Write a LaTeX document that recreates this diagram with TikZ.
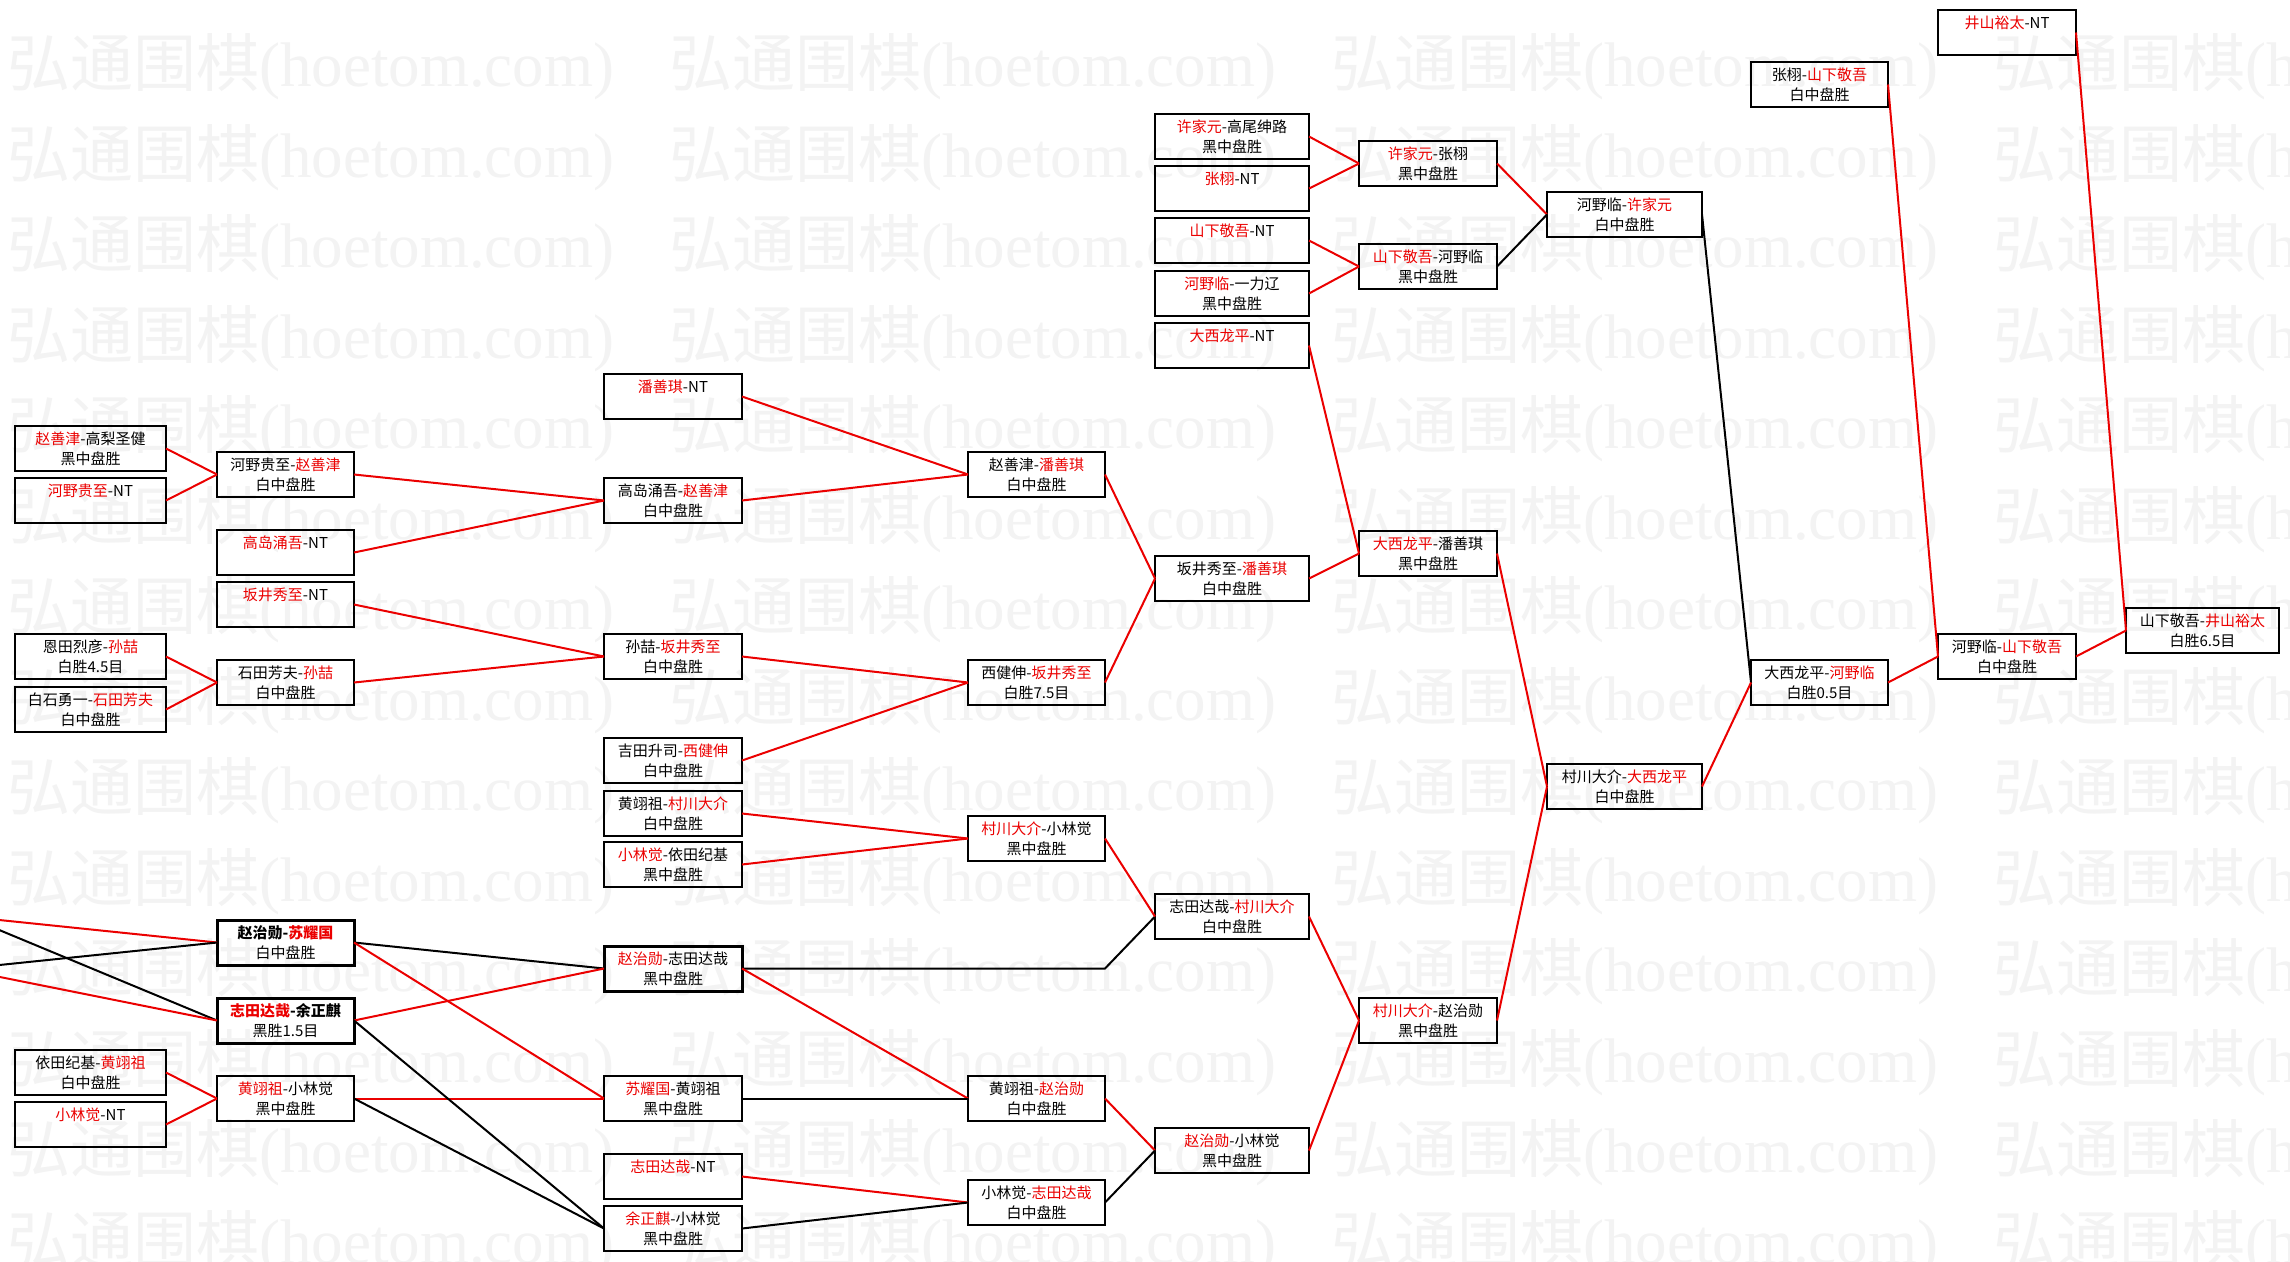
\documentclass[tikz,border=0pt]{standalone}
\usepackage{fontspec}
\setmainfont{Noto Sans CJK SC}
\newfontfamily\wmlat{Liberation Serif}
\definecolor{wred}{RGB}{235,0,0}
\definecolor{wmgray}{RGB}{243,243,243}
\newcommand\rd[1]{\textcolor{wred}{#1}}
\begin{document}
\begin{tikzpicture}[x=1pt,y=-1pt,
  box/.style={draw=black, line width=2pt, inner sep=0pt, outer sep=0pt,
    minimum height=45pt, align=center, anchor=north west,
    font=\fontsize{15}{20}\selectfont},
  heavybox/.style={line width=3pt},
  wA/.style={minimum width=151pt}, wB/.style={minimum width=137pt},
  wC/.style={minimum width=138pt}, wD/.style={minimum width=137pt},
  wE/.style={minimum width=154pt}, wF/.style={minimum width=138pt},
  wG/.style={minimum width=155pt}, wH/.style={minimum width=137pt},
  wI/.style={minimum width=138pt}, wJ/.style={minimum width=153pt},
  rl/.style={draw=wred, line width=2pt},
  bl/.style={draw=black, line width=2pt},
  wmtext/.style={text=wmgray, inner sep=0pt, anchor=west,
    font=\fontsize{63}{63}\selectfont}]
\useasboundingbox (0,0) rectangle (2290,1261);
\fill[white] (0,0) rectangle (2290,1261);
% watermark
\foreach \k in {0,...,13}{
  \foreach \j in {0,...,3}{
    \node[wmtext] (wm-\k-\j) at ({7+662*\j},{67+90.5*\k}) {弘通围棋{\wmlat (hoetom.com)}};
  }
}
% column A
\node[box,wA] (A1) at (15,426) {\rd{赵善津}-高梨圣健\\黑中盘胜};
\node[box,wA] (A2) at (15,478) {\rd{河野贵至}-NT\\\mbox{}};
\node[box,wA] (A3) at (15,634) {恩田烈彦-\rd{孙喆}\\白胜4.5目};
\node[box,wA] (A4) at (15,687) {白石勇一-\rd{石田芳夫}\\白中盘胜};
\node[box,wA] (A5) at (15,1050) {依田纪基-\rd{黄翊祖}\\白中盘胜};
\node[box,wA] (A6) at (15,1102) {\rd{小林觉}-NT\\\mbox{}};
% column B
\node[box,wB] (B1) at (217,452) {河野贵至-\rd{赵善津}\\白中盘胜};
\node[box,wB] (B2) at (217,530) {\rd{高岛涌吾}-NT\\\mbox{}};
\node[box,wB] (B3) at (217,582) {\rd{坂井秀至}-NT\\\mbox{}};
\node[box,wB] (B4) at (217,660) {石田芳夫-\rd{孙喆}\\白中盘胜};
\node[box,wB,heavybox] (B5) at (217,920) {\bfseries 赵治勋-\rd{苏耀国}\\白中盘胜};
\node[box,wB,heavybox] (B6) at (217,998) {\bfseries \rd{志田达哉}-余正麒\\黑胜1.5目};
\node[box,wB] (B7) at (217,1076) {\rd{黄翊祖}-小林觉\\黑中盘胜};
% column C
\node[box,wC] (C1) at (604,374) {\rd{潘善琪}-NT\\\mbox{}};
\node[box,wC] (C2) at (604,478) {高岛涌吾-\rd{赵善津}\\白中盘胜};
\node[box,wC] (C3) at (604,634) {孙喆-\rd{坂井秀至}\\白中盘胜};
\node[box,wC] (C4) at (604,738) {吉田升司-\rd{西健伸}\\白中盘胜};
\node[box,wC] (C5) at (604,791) {黄翊祖-\rd{村川大介}\\白中盘胜};
\node[box,wC] (C6) at (604,842) {\rd{小林觉}-依田纪基\\黑中盘胜};
\node[box,wC,heavybox] (C7) at (604,946) {\rd{赵治勋}-志田达哉\\黑中盘胜};
\node[box,wC] (C8) at (604,1076) {\rd{苏耀国}-黄翊祖\\黑中盘胜};
\node[box,wC] (C9) at (604,1154) {\rd{志田达哉}-NT\\\mbox{}};
\node[box,wC] (C10) at (604,1206) {\rd{余正麒}-小林觉\\黑中盘胜};
% column D
\node[box,wD] (D1) at (968,452) {赵善津-\rd{潘善琪}\\白中盘胜};
\node[box,wD] (D2) at (968,660) {西健伸-\rd{坂井秀至}\\白胜7.5目};
\node[box,wD] (D3) at (968,816) {\rd{村川大介}-小林觉\\黑中盘胜};
\node[box,wD] (D4) at (968,1076) {黄翊祖-\rd{赵治勋}\\白中盘胜};
\node[box,wD] (D5) at (968,1180) {小林觉-\rd{志田达哉}\\白中盘胜};
% column E
\node[box,wE] (E1) at (1155,114) {\rd{许家元}-高尾绅路\\黑中盘胜};
\node[box,wE] (E2) at (1155,166) {\rd{张栩}-NT\\\mbox{}};
\node[box,wE] (E3) at (1155,218) {\rd{山下敬吾}-NT\\\mbox{}};
\node[box,wE] (E4) at (1155,271) {\rd{河野临}-一力辽\\黑中盘胜};
\node[box,wE] (E5) at (1155,323) {\rd{大西龙平}-NT\\\mbox{}};
\node[box,wE] (E6) at (1155,556) {坂井秀至-\rd{潘善琪}\\白中盘胜};
\node[box,wE] (E7) at (1155,894) {志田达哉-\rd{村川大介}\\白中盘胜};
\node[box,wE] (E8) at (1155,1128) {\rd{赵治勋}-小林觉\\黑中盘胜};
% column F
\node[box,wF] (F1) at (1359,141) {\rd{许家元}-张栩\\黑中盘胜};
\node[box,wF] (F2) at (1359,244) {\rd{山下敬吾}-河野临\\黑中盘胜};
\node[box,wF] (F3) at (1359,531) {\rd{大西龙平}-潘善琪\\黑中盘胜};
\node[box,wF] (F4) at (1359,998) {\rd{村川大介}-赵治勋\\黑中盘胜};
% column G
\node[box,wG] (G1) at (1547,192) {河野临-\rd{许家元}\\白中盘胜};
\node[box,wG] (G2) at (1547,764) {村川大介-\rd{大西龙平}\\白中盘胜};
% column H
\node[box,wH] (H1) at (1751,62) {张栩-\rd{山下敬吾}\\白中盘胜};
\node[box,wH] (H2) at (1751,660) {大西龙平-\rd{河野临}\\白胜0.5目};
% column I
\node[box,wI] (I1) at (1938,10) {\rd{井山裕太}-NT\\\mbox{}};
\node[box,wI] (I2) at (1938,634) {河野临-\rd{山下敬吾}\\白中盘胜};
% column J
\node[box,wJ] (J1) at (2126,608) {山下敬吾-\rd{井山裕太}\\白胜6.5目};
% free ends off the left edge
\coordinate (inR1) at (-20,918);
\coordinate (inB1) at (-20,922);
\coordinate (inB2) at (-20,967);
\coordinate (inR2) at (-20,973);
\coordinate (turnC7) at (1105,968.5);
% connectors
\draw[rl] (A1.east) -- (B1.west);
\draw[rl] (A2.east) -- (B1.west);
\draw[rl] (A3.east) -- (B4.west);
\draw[rl] (A4.east) -- (B4.west);
\draw[rl] (A5.east) -- (B7.west);
\draw[rl] (A6.east) -- (B7.west);
\draw[rl] (B1.east) -- (C2.west);
\draw[rl] (B2.east) -- (C2.west);
\draw[rl] (B3.east) -- (C3.west);
\draw[rl] (B4.east) -- (C3.west);
\draw[rl] (inR1) -- (B5.west);
\draw[bl] (inB2) -- (B5.west);
\draw[bl] (inB1) -- (B6.west);
\draw[rl] (inR2) -- (B6.west);
\draw[bl] (B5.east) -- (C7.west);
\draw[rl] (B6.east) -- (C7.west);
\draw[rl] (B5.east) -- (C8.west);
\draw[rl] (B7.east) -- (C8.west);
\draw[bl] (B6.east) -- (C10.west);
\draw[bl] (B7.east) -- (C10.west);
\draw[rl] (C1.east) -- (D1.west);
\draw[rl] (C2.east) -- (D1.west);
\draw[rl] (C3.east) -- (D2.west);
\draw[rl] (C4.east) -- (D2.west);
\draw[rl] (C5.east) -- (D3.west);
\draw[rl] (C6.east) -- (D3.west);
\draw[bl] (C7.east) -- (turnC7) -- (E7.west);
\draw[rl] (C7.east) -- (D4.west);
\draw[bl] (C8.east) -- (D4.west);
\draw[rl] (C9.east) -- (D5.west);
\draw[bl] (C10.east) -- (D5.west);
\draw[rl] (D1.east) -- (E6.west);
\draw[rl] (D2.east) -- (E6.west);
\draw[rl] (D3.east) -- (E7.west);
\draw[rl] (D4.east) -- (E8.west);
\draw[bl] (D5.east) -- (E8.west);
\draw[rl] (E1.east) -- (F1.west);
\draw[rl] (E2.east) -- (F1.west);
\draw[rl] (E3.east) -- (F2.west);
\draw[rl] (E4.east) -- (F2.west);
\draw[rl] (E5.east) -- (F3.west);
\draw[rl] (E6.east) -- (F3.west);
\draw[rl] (E7.east) -- (F4.west);
\draw[rl] (E8.east) -- (F4.west);
\draw[rl] (F1.east) -- (G1.west);
\draw[bl] (F2.east) -- (G1.west);
\draw[rl] (F3.east) -- (G2.west);
\draw[rl] (F4.east) -- (G2.west);
\draw[bl] (G1.east) -- (H2.west);
\draw[rl] (G2.east) -- (H2.west);
\draw[rl] (H1.east) -- (I2.west);
\draw[rl] (H2.east) -- (I2.west);
\draw[rl] (I1.east) -- (J1.west);
\draw[rl] (I2.east) -- (J1.west);
\end{tikzpicture}
\end{document}
